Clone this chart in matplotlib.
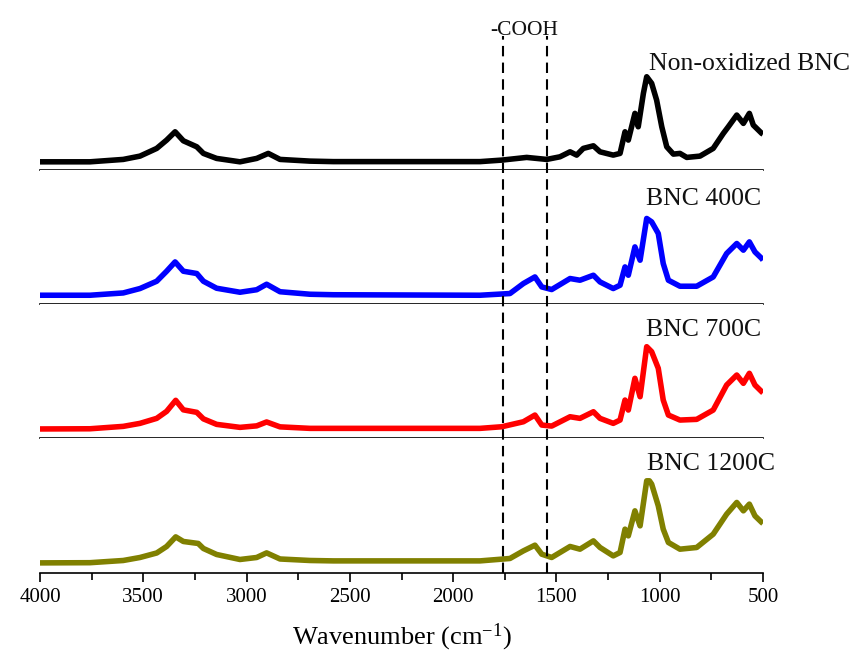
import matplotlib
matplotlib.use("Agg")
import matplotlib.pyplot as plt
import numpy as np

plt.rcParams['font.family'] = ['Liberation Serif', 'DejaVu Serif']
plt.rcParams['mathtext.default'] = 'regular'

# Wavenumber grid (cm-1) and intensities (arbitrary units, height above each panel's baseline line)
wn_black = [4000, 3758, 3597, 3516, 3435, 3387, 3346, 3306, 3241, 3209, 3145, 3032, 2951, 2895, 2838, 2693, 2580,
            1870, 1765, 1644, 1547, 1483, 1434, 1402, 1370, 1321, 1289, 1225, 1192, 1168, 1152, 1120, 1104, 1079, 1063,
            1039, 1015, 990, 966, 934, 902, 869, 805, 741, 692, 668, 627, 595, 566, 547, 506, 500]
int_black = [8.3, 8.3, 10.7, 14.0, 21.7, 30.0, 38.3, 29.3, 23.3, 16.7, 11.7, 8.3, 11.7, 16.7, 10.7, 9.0, 8.5,
             8.5, 10.0, 12.7, 10.7, 13.3, 18.3, 15.0, 21.7, 24.3, 18.3, 15.0, 16.7, 38.3, 30.0, 56.7, 43.3, 76.7, 93.3,
             86.7, 70.0, 43.3, 23.3, 16.0, 16.7, 12.7, 14.0, 21.7, 36.7, 43.3, 55.0, 46.7, 56.7, 45.0, 36.7, 36.0]

wn_400 = [4000, 3758, 3597, 3516, 3435, 3387, 3346, 3306, 3241, 3209, 3145, 3032, 2951, 2903, 2838, 2693, 2580,
          1870, 1725, 1660, 1604, 1571, 1523, 1434, 1386, 1321, 1289, 1225, 1192, 1168, 1152, 1120, 1095, 1063,
          1039, 1007, 983, 958, 902, 821, 741, 676, 627, 595, 566, 539, 506, 500]
int_400 = [9.0, 9.0, 11.3, 15.7, 23.0, 33.0, 42.3, 33.0, 30.7, 23.0, 16.0, 12.0, 14.5, 20.0, 12.5, 10.0, 9.5,
           9.0, 10.7, 20.7, 27.3, 17.3, 14.7, 25.7, 24.0, 29.0, 22.3, 15.7, 19.0, 37.3, 29.0, 57.3, 44.0, 85.7,
           82.3, 70.7, 40.7, 24.0, 18.0, 18.0, 27.3, 50.7, 60.7, 54.0, 62.3, 52.3, 45.7, 44.0]

wn_700 = [4000, 3758, 3597, 3516, 3435, 3387, 3343, 3306, 3241, 3209, 3145, 3032, 2951, 2903, 2838, 2693, 2580,
          1870, 1765, 1660, 1604, 1571, 1523, 1434, 1386, 1321, 1289, 1225, 1192, 1168, 1152, 1120, 1095, 1063,
          1039, 1007, 983, 958, 902, 821, 741, 676, 627, 595, 566, 539, 506, 500]
int_700 = [9.4, 9.6, 12.0, 15.0, 20.0, 27.0, 38.0, 28.5, 26.0, 19.5, 14.0, 11.0, 12.5, 16.4, 11.5, 10.0, 10.0,
           10.0, 11.6, 16.6, 23.3, 13.3, 12.3, 21.6, 20.0, 26.6, 20.0, 15.0, 18.3, 38.3, 28.3, 60.0, 41.6, 91.6,
           86.6, 70.0, 38.3, 23.3, 18.3, 19.0, 28.3, 53.3, 63.3, 55.0, 65.0, 53.3, 46.6, 45.5]

wn_1200 = [4000, 3758, 3597, 3516, 3435, 3387, 3343, 3306, 3234, 3209, 3145, 3032, 2951, 2903, 2838, 2693, 2580,
           1870, 1725, 1660, 1604, 1571, 1523, 1434, 1386, 1321, 1289, 1225, 1192, 1168, 1152, 1120, 1095, 1063,
           1050, 1039, 1007, 983, 958, 902, 821, 741, 676, 627, 595, 566, 539, 506, 500]
int_1200 = [9.6, 9.8, 12.0, 15.0, 19.5, 26.0, 35.6, 31.0, 29.0, 24.0, 18.0, 13.0, 15.0, 19.6, 13.5, 12.0, 11.6,
            11.6, 14.0, 21.6, 27.3, 18.3, 15.0, 26.0, 23.3, 31.6, 25.0, 16.6, 20.0, 43.3, 36.6, 61.6, 46.6, 91.6,
            91.6, 88.3, 66.6, 43.3, 30.0, 23.3, 25.0, 38.3, 58.3, 70.0, 61.6, 68.3, 56.6, 50.0, 49.0]

series = [(wn_black, int_black, 'black', 'Non-oxidized BNC', 1.12, 0.749),
          (wn_400, int_400, '#0000ff', 'BNC 400C', 0.997, 0.737),
          (wn_700, int_700, '#ff0000', 'BNC 700C', 0.997, 0.763),
          (wn_1200, int_1200, '#808000', 'BNC 1200C', 1.017, 0.767)]

cooh_lines = [1760, 1545]
xticks = [4000, 3500, 3000, 2500, 2000, 1500, 1000, 500]
panel_h = 134.0

fig = plt.figure(figsize=(8.53, 6.64), dpi=100)
W, H = 853.0, 664.0
axs = fig.subplots(4, 1, sharex=True,
                   gridspec_kw=dict(hspace=0, left=40 / W, right=763 / W,
                                    top=1 - 36 / H, bottom=1 - 572.5 / H))

for ax, (wn, inten, col, lab, tx, ty) in zip(axs, series):
    ax.plot(wn, inten, color=col, lw=4.0, solid_joinstyle='round', solid_capstyle='butt')
    ax.set_ylim(0, panel_h)
    ax.set_xlim(4000, 500)
    for s in ['left', 'right', 'top']:
        ax.spines[s].set_visible(False)
    ax.spines['bottom'].set_linewidth(1.2)
    ax.set_yticks([])
    ax.tick_params(axis='x', which='both', bottom=False, labelbottom=False)
    ax.text(tx, ty, lab, transform=ax.transAxes, ha='right', va='baseline',
            fontsize=18.5, color='#111111', clip_on=False)

axb = axs[-1]
axb.set_xticks(xticks)
axb.set_xticks(np.arange(3750, 500, -500), minor=True)
axb.tick_params(axis='x', which='major', bottom=True, labelbottom=True, direction='out',
                length=6.5, width=1.2, labelsize=15, pad=5)
axb.tick_params(axis='x', which='minor', bottom=True, direction='out', length=5, width=1.2)
axb.set_xlabel('Wavenumber (cm$^{-1}$)', fontsize=19, labelpad=10)

for x0 in cooh_lines:
    axb.plot([x0, x0], [0, 4 * panel_h], color='black', lw=1.5, linestyle=(0, (5, 3)),
             clip_on=False, zorder=5)

fig.text(524 / W, 1 - 35 / H, '-COOH', ha='center', va='baseline', fontsize=15.5, color='#111111')

fig.savefig('out.png', dpi=100, facecolor='white')
